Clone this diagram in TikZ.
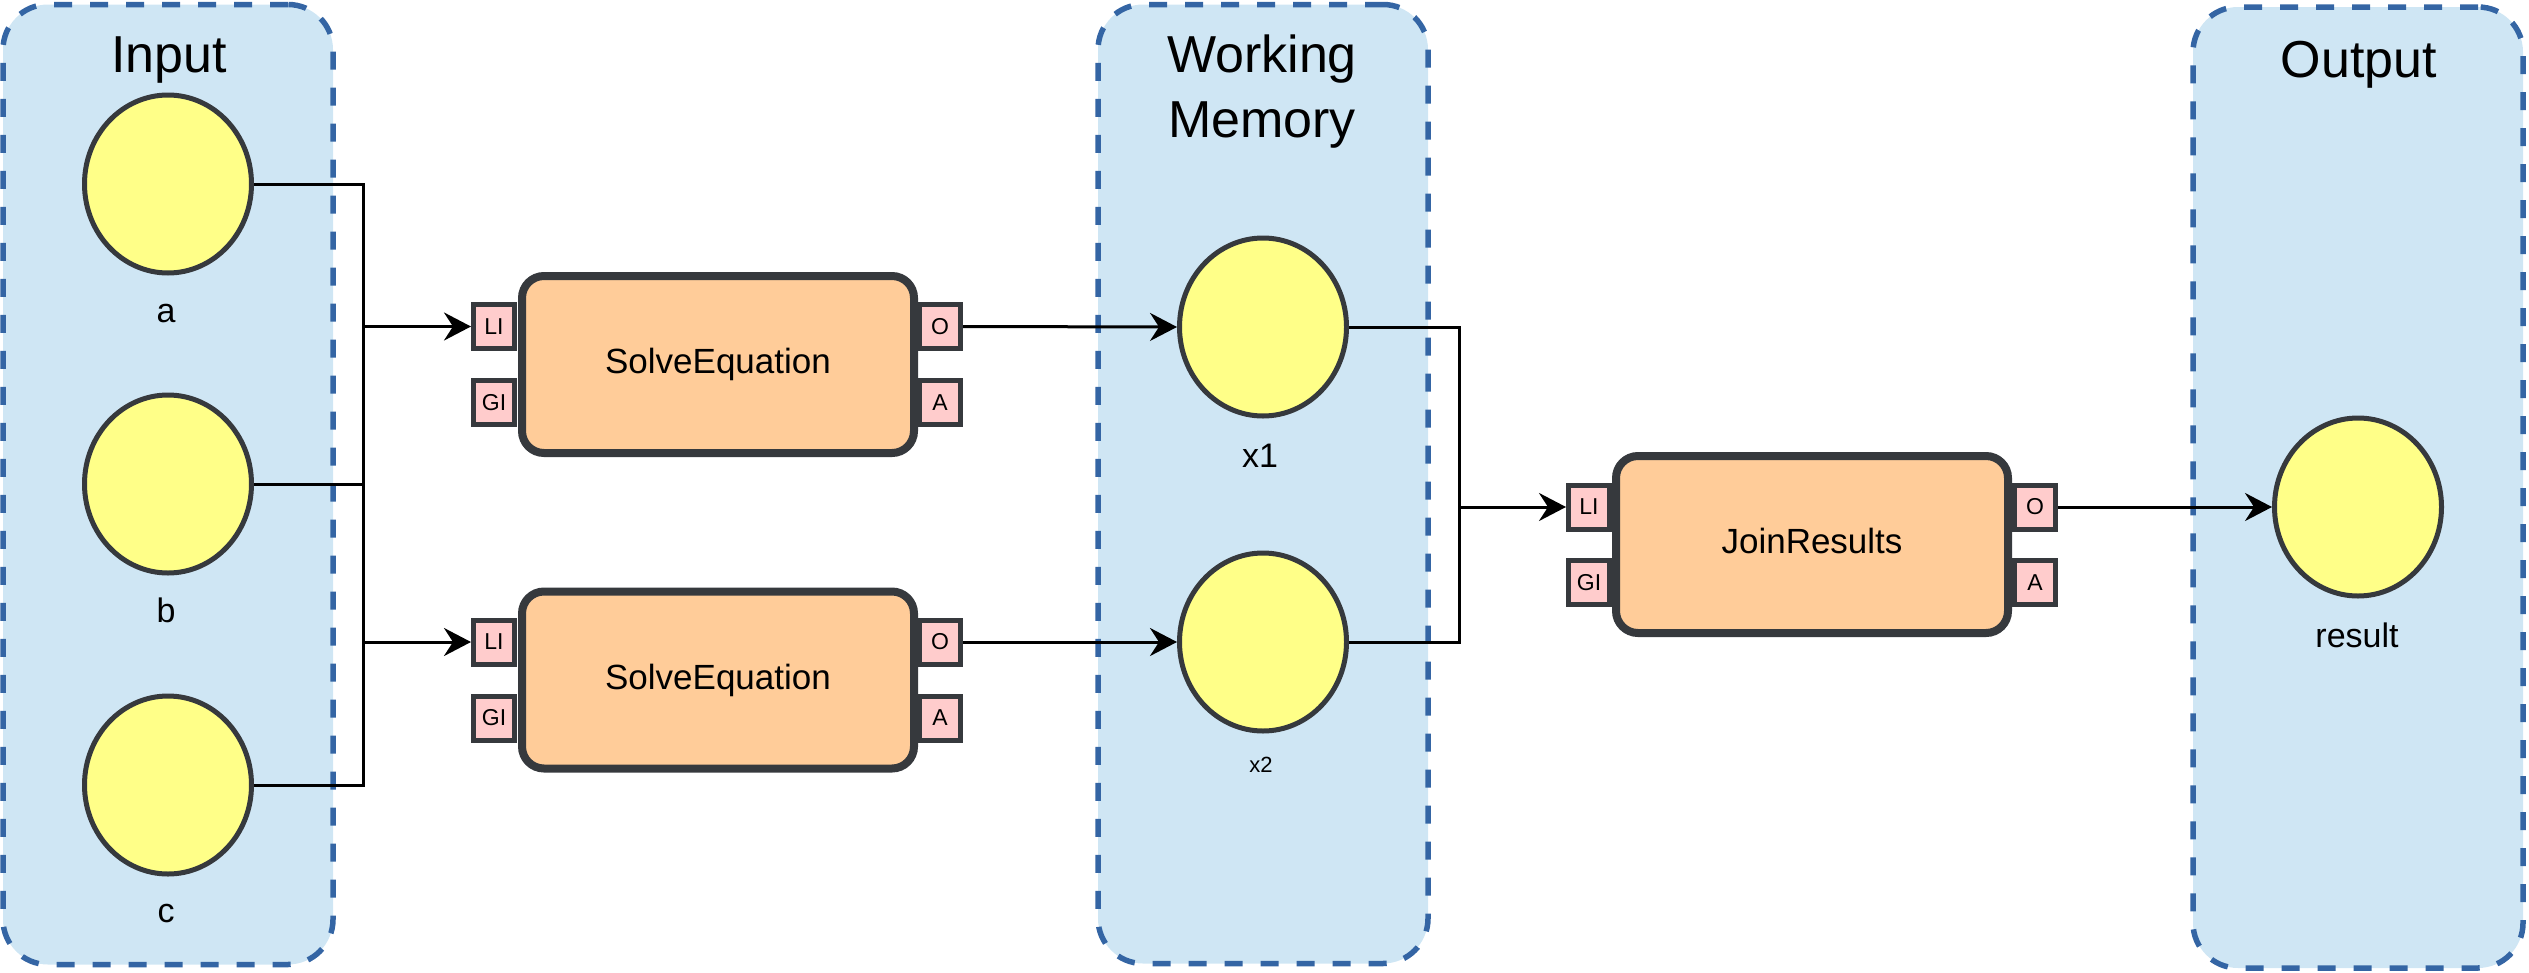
\documentclass[tikz,border=0pt]{standalone}
\usepackage{fontspec}
\setmainfont{Liberation Sans}
\usetikzlibrary{shapes.geometric,arrows.meta}
\definecolor{cfill}{RGB}{207,230,244}
\definecolor{cdash}{RGB}{52,101,164}
\definecolor{dark}{HTML}{36393D}
\definecolor{yfill}{HTML}{FFFF88}
\definecolor{ofill}{HTML}{FFCC99}
\definecolor{pfill}{HTML}{FFCCCC}
\begin{document}
\begin{tikzpicture}[x=1pt,y=-1pt,
  container/.style={rectangle,draw=cdash,fill=cfill,line width=5.5pt,dash pattern=on 18pt off 18pt,rounded corners=45pt,minimum width=330pt,inner sep=0pt},
  var/.style={ellipse,draw=dark,fill=yfill,line width=5pt,minimum width=167pt,minimum height=178pt,inner sep=0pt},
  vlabel/.style={anchor=base,font=\fontsize{34}{40}\selectfont,inner sep=0pt},
  proc/.style={rectangle,rounded corners=22pt,draw=dark,fill=ofill,line width=8pt,minimum width=392pt,minimum height=177pt,text height=25pt,text depth=7pt,font=\fontsize{35}{42}\selectfont},
  port/.style={rectangle,draw=dark,fill=pfill,line width=5pt,minimum width=41pt,minimum height=44pt,inner sep=0pt,font=\fontsize{23}{27}\selectfont},
  wire/.style={line width=3pt,black},
  arr/.style={wire,-{Stealth[length=27pt,width=28pt,inset=9pt]}},
  title/.style={anchor=base,font=\fontsize{52}{65}\selectfont,align=center,inner sep=0pt}
]
\useasboundingbox (0,0) rectangle (2529,972);
% containers
\node[container,minimum height=960pt] (inp) at (168,484.5) {};
\node[container,minimum height=959pt] (wm) at (1263,484) {};
\node[container,minimum height=961pt] (out) at (2358,487.5) {};
\node[title] (tinp) at (169,72) {Input};
\node[title] (twm1) at (1262,72) {Working};
\node[title] (twm2) at (1262,137) {Memory};
\node[title] (tout) at (2359,77) {Output};
% variables
\node[var] (a) at (168,184) {};
\node[var] (b) at (168,484) {};
\node[var] (c) at (168,785) {};
\node[var] (x1) at (1263,327) {};
\node[var] (x2) at (1263,642) {};
\node[var] (res) at (2358,507) {};
\node[vlabel] (la) at (166,322) {a};
\node[vlabel] (lb) at (166,622) {b};
\node[vlabel] (lc) at (166,922) {c};
\node[vlabel] (lx1) at (1260,467) {x1};
\node[vlabel,font=\fontsize{22}{26}\selectfont] (lx2) at (1261,772) {x2};
\node[vlabel] (lres) at (2357,647) {result};
% ports
\node[port] (p1li) at (494,326.5) {LI};
\node[port] (p1gi) at (494,402.5) {GI};
\node[port] (p1o) at (940,326.5) {O};
\node[port] (p1a) at (940,402.5) {A};
\node[port] (p2li) at (494,642) {LI};
\node[port] (p2gi) at (494,718) {GI};
\node[port] (p2o) at (940,642) {O};
\node[port] (p2a) at (940,718) {A};
\node[port] (p3li) at (1589,507) {LI};
\node[port] (p3gi) at (1589,582.5) {GI};
\node[port] (p3o) at (2035,507) {O};
\node[port] (p3a) at (2035,582.5) {A};
% processes
\node[proc] (s1) at (718,364.5) {SolveEquation};
\node[proc] (s2) at (718,680) {SolveEquation};
\node[proc] (jr) at (1812,544.5) {JoinResults};
% connectors
\coordinate (jl) at (363,484);
\coordinate (jr0) at (1459,507);
\draw[wire] (a.east) -| (jl) |- (c.east);
\draw[wire] (b.east) -- (jl);
\draw[arr] (jl |- p1li.west) -- (p1li.west);
\draw[arr] (jl |- p2li.west) -- (p2li.west);
\draw[arr] (p1o.east) -- (x1.west);
\draw[arr] (p2o.east) -- (x2.west);
\draw[wire] (x1.east) -| (jr0) |- (x2.east);
\draw[arr] (jr0) -- (p3li.west);
\draw[arr] (p3o.east) -- (res.west);
\end{tikzpicture}
\end{document}
